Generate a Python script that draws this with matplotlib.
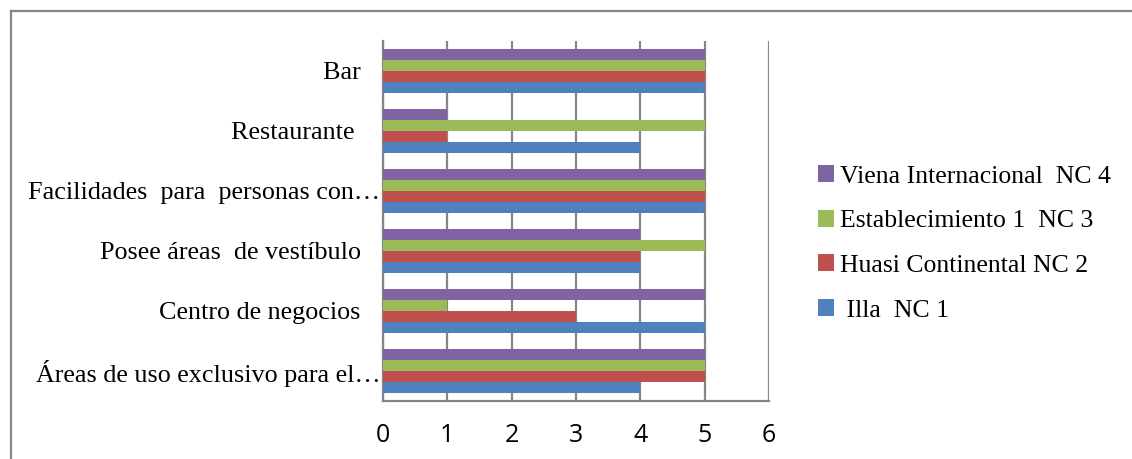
import matplotlib
matplotlib.use('Agg')
import matplotlib.pyplot as plt
from matplotlib.lines import Line2D
from matplotlib.patches import Patch
import numpy as np

# Categories, bottom to top as drawn on the y axis
categories = [
    'Áreas de uso exclusivo para el…',
    'Centro de negocios   ',
    'Posee áreas  de vestíbulo   ',
    'Facilidades  para  personas con…',
    'Restaurante    ',
    'Bar   ',
]

legend_labels = [' Illa  NC 1', 'Huasi Continental NC 2',
                 'Establecimiento 1  NC 3', 'Viena Internacional  NC 4']

illa = [4, 5, 4, 5, 4, 5]
huasi = [5, 3, 4, 5, 1, 5]
establecimiento = [5, 1, 5, 5, 5, 5]
viena = [5, 5, 4, 5, 1, 5]

x_ticks = [0, 1, 2, 3, 4, 5, 6]

colors = ['#4F81BD', '#C0504D', '#9BBB59', '#8064A2']
grid_color = '#868686'

fig = plt.figure(figsize=(11.32, 4.59), dpi=100)
ax = fig.add_axes([0.3383, 0.1264, 0.3410, 0.7843])

y = np.arange(len(categories))
bar_h = 0.183
values = [illa, huasi, establecimiento, viena]
for i, (vals, col) in enumerate(zip(values, colors)):
    offset = (i - 1.5) * bar_h
    ax.barh(y + offset, vals, height=bar_h, color=col, zorder=3,
            edgecolor='none')

ax.set_xlim(0, 6)
ax.set_ylim(-0.5, len(categories) - 0.5)
ax.set_xticks(x_ticks)
ax.set_xticklabels([str(t) for t in x_ticks], fontfamily='Open Sans',
                   fontsize=18)
ax.set_yticks(y)
ax.set_yticklabels(categories, fontfamily='Liberation Serif', fontsize=18.8)
ax.tick_params(axis='x', length=0, pad=16)
ax.tick_params(axis='y', length=0, pad=2)

ax.grid(axis='x', color=grid_color, linewidth=1.6, zorder=0)
for side in ['top', 'right']:
    ax.spines[side].set_visible(False)
ax.spines['left'].set_color(grid_color)
ax.spines['left'].set_linewidth(1.6)
ax.spines['bottom'].set_color(grid_color)
ax.spines['bottom'].set_linewidth(1.6)

# Legend, top entry is the last series
handles = [Patch(facecolor=c, edgecolor='none') for c in colors]
leg = fig.legend(handles[::-1], legend_labels[::-1],
                 loc='center left', bbox_to_anchor=(0.702, 0.470),
                 frameon=False, handlelength=0.65, handleheight=0.65,
                 handletextpad=0.2, labelspacing=0.86,
                 prop={'family': 'Liberation Serif', 'size': 18.5})

# Outer chart frame (top and left edges)
fig.add_artist(Line2D([0.0097, 1.0], [1 - 11 / 459, 1 - 11 / 459],
                      transform=fig.transFigure, color=grid_color, lw=1.6))
fig.add_artist(Line2D([0.0097, 0.0097], [0.0, 1 - 11 / 459],
                      transform=fig.transFigure, color=grid_color, lw=1.6))

fig.savefig('out.png', dpi=100, facecolor='white')
